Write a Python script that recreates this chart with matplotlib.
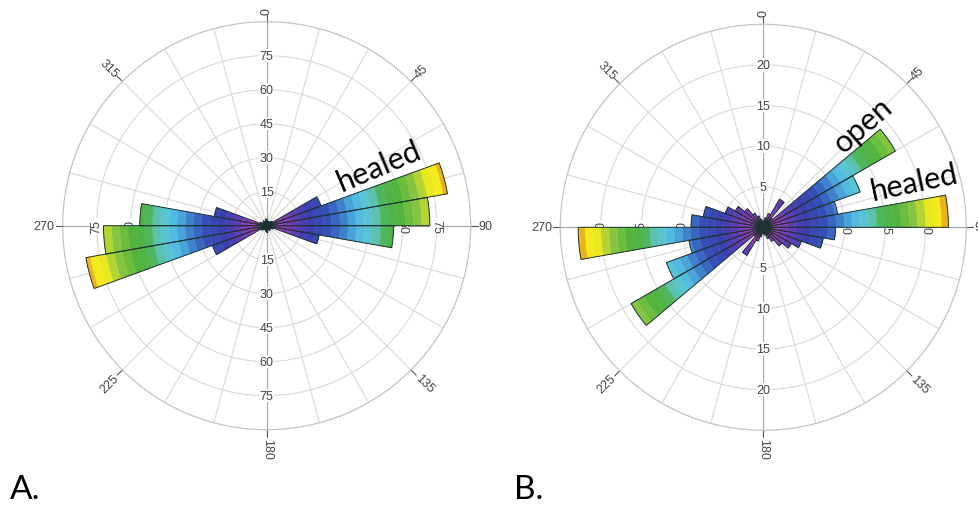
import numpy as np
import matplotlib.pyplot as plt
from matplotlib.colors import LinearSegmentedColormap

# strike frequencies in 10 degree bins (0-170); the rose is axial, so each bin repeats at +180
bin_start = np.arange(0, 180, 10)
healed_freq = [2.5, 1.5, 2.0, 1.5, 2.5, 3.0, 25.5, 81.0, 72.0, 56.0, 23.5, 3.0, 2.0, 1.5, 2.5, 1.5, 2.0, 3.0]
all_freq = [0.8, 1.2, 1.8, 4.0, 1.5, 18.8, 12.7, 9.3, 22.8, 8.9, 7.5, 5.0, 4.0, 3.0, 2.0, 1.5, 1.0, 0.7]

rings_a = [15, 30, 45, 60, 75]
rings_b = [5, 10, 15, 20]
rmax_a = 90
rmax_b = 25
angle_labels = [0, 45, 90, 135, 180, 225, 270, 315]

# colour by distance from the centre (fraction of the outer ring)
rose_cmap = LinearSegmentedColormap.from_list('rose', [
    (0.00, '#a040c0'), (0.04, '#c444c4'), (0.09, '#8c3cbc'), (0.15, '#5a3cb4'),
    (0.22, '#3a40b0'), (0.30, '#3650b8'), (0.36, '#3a70c4'), (0.42, '#48a4d8'),
    (0.48, '#58c6e4'), (0.54, '#5cc0b0'), (0.59, '#4cb24c'), (0.66, '#52b43c'),
    (0.74, '#84c440'), (0.79, '#c0d830'), (0.83, '#f6ee1c'), (0.89, '#f4e81c'),
    (0.915, '#e07a18'), (0.94, '#b82010'), (1.00, '#801010')])

label_font = ['Liberation Sans Narrow', 'Liberation Sans', 'DejaVu Sans']


def draw_rose(ax, freq, rmax, rings, band=0.04):
    ax.set_theta_zero_location('N')
    ax.set_theta_direction(-1)
    ax.set_ylim(0, rmax)
    ax.set_axisbelow(True)
    ax.set_xticks(np.deg2rad(np.arange(0, 360, 15)))
    ax.set_xticklabels([])
    ax.set_yticks(rings)
    ax.set_yticklabels([])
    ax.tick_params(length=0)
    ax.grid(True, color='#d9d9d9', lw=0.8)
    ax.spines['polar'].set_color('#c4c4c4')
    ax.spines['polar'].set_linewidth(0.9)

    # main axes a little darker than the other spokes
    for a in [0, 90, 180, 270]:
        ax.plot([np.deg2rad(a)] * 2, [0, rmax], color='#a8a8a8', lw=0.8, zorder=1)

    theta = np.deg2rad(np.concatenate([bin_start, bin_start + 180]) + 5)
    r = np.array(list(freq) + list(freq))
    width = np.deg2rad(10)

    # stacked colour bands, only where the petal reaches
    step = band * rmax
    for k in range(int(np.ceil(r.max() / step))):
        lo = k * step
        h = np.clip(r - lo, 0, step)
        keep = h > 0
        c = rose_cmap(min((lo + step / 2) / rmax, 1.0))
        ax.bar(theta[keep], h[keep], width=width, bottom=lo, color=c, edgecolor=c,
               lw=0.3, zorder=3)
    ax.bar(theta, r, width=width, bottom=0, fill=False, edgecolor='#1e3232', lw=0.7, zorder=4)

    # ring values along the four main axes
    for v in rings:
        for a, rot in [(0, 0), (180, 0), (90, -90), (270, 90)]:
            ax.text(np.deg2rad(a), v, str(v), rotation=rot, ha='center', va='center',
                    fontsize=9, color='#444444', family=label_font, zorder=2,
                    bbox=dict(facecolor='white', edgecolor='none', pad=0.5))

    # azimuth ticks and labels outside the circle
    for a in angle_labels:
        t = np.deg2rad(a)
        ax.plot([t, t], [rmax, rmax * 1.035], color='#555555', lw=0.8, clip_on=False)
        if a <= 180:
            rot, ha = 90 - a, 'left'
        else:
            rot, ha = 270 - a, 'right'
        ax.text(t, rmax * 1.04, str(a), rotation=rot, rotation_mode='anchor', ha=ha,
                va='center', fontsize=9, color='#444444', family=label_font)


fig = plt.figure(figsize=(9.79, 5.06), dpi=100)

ax1 = fig.add_axes([0.0640, 0.1488, 0.4168, 0.8063], projection='polar')
draw_rose(ax1, healed_freq, rmax_a, rings_a)
ax1.text(np.deg2rad(61.7), 56.5, 'healed', rotation=23, ha='center', va='center',
         rotation_mode='anchor', fontsize=22, family='Lato', color='black', zorder=5)

ax2 = fig.add_axes([0.5723, 0.1476, 0.4147, 0.8024], projection='polar')
draw_rose(ax2, all_freq, rmax_b, rings_b)
ax2.text(np.deg2rad(44), 17.7, 'open', rotation=41, ha='center', va='center',
         rotation_mode='anchor', fontsize=22, family='Lato', color='black', zorder=5)
ax2.text(np.deg2rad(73.3), 19.4, 'healed', rotation=12, ha='center', va='center',
         rotation_mode='anchor', fontsize=22, family='Lato', color='black', zorder=5)

fig.text(10 / 979, 7 / 506, 'A.', fontsize=24, family='Lato', color='black')
fig.text(514 / 979, 7 / 506, 'B.', fontsize=24, family='Lato', color='black')

fig.savefig('out.png', dpi=100)
